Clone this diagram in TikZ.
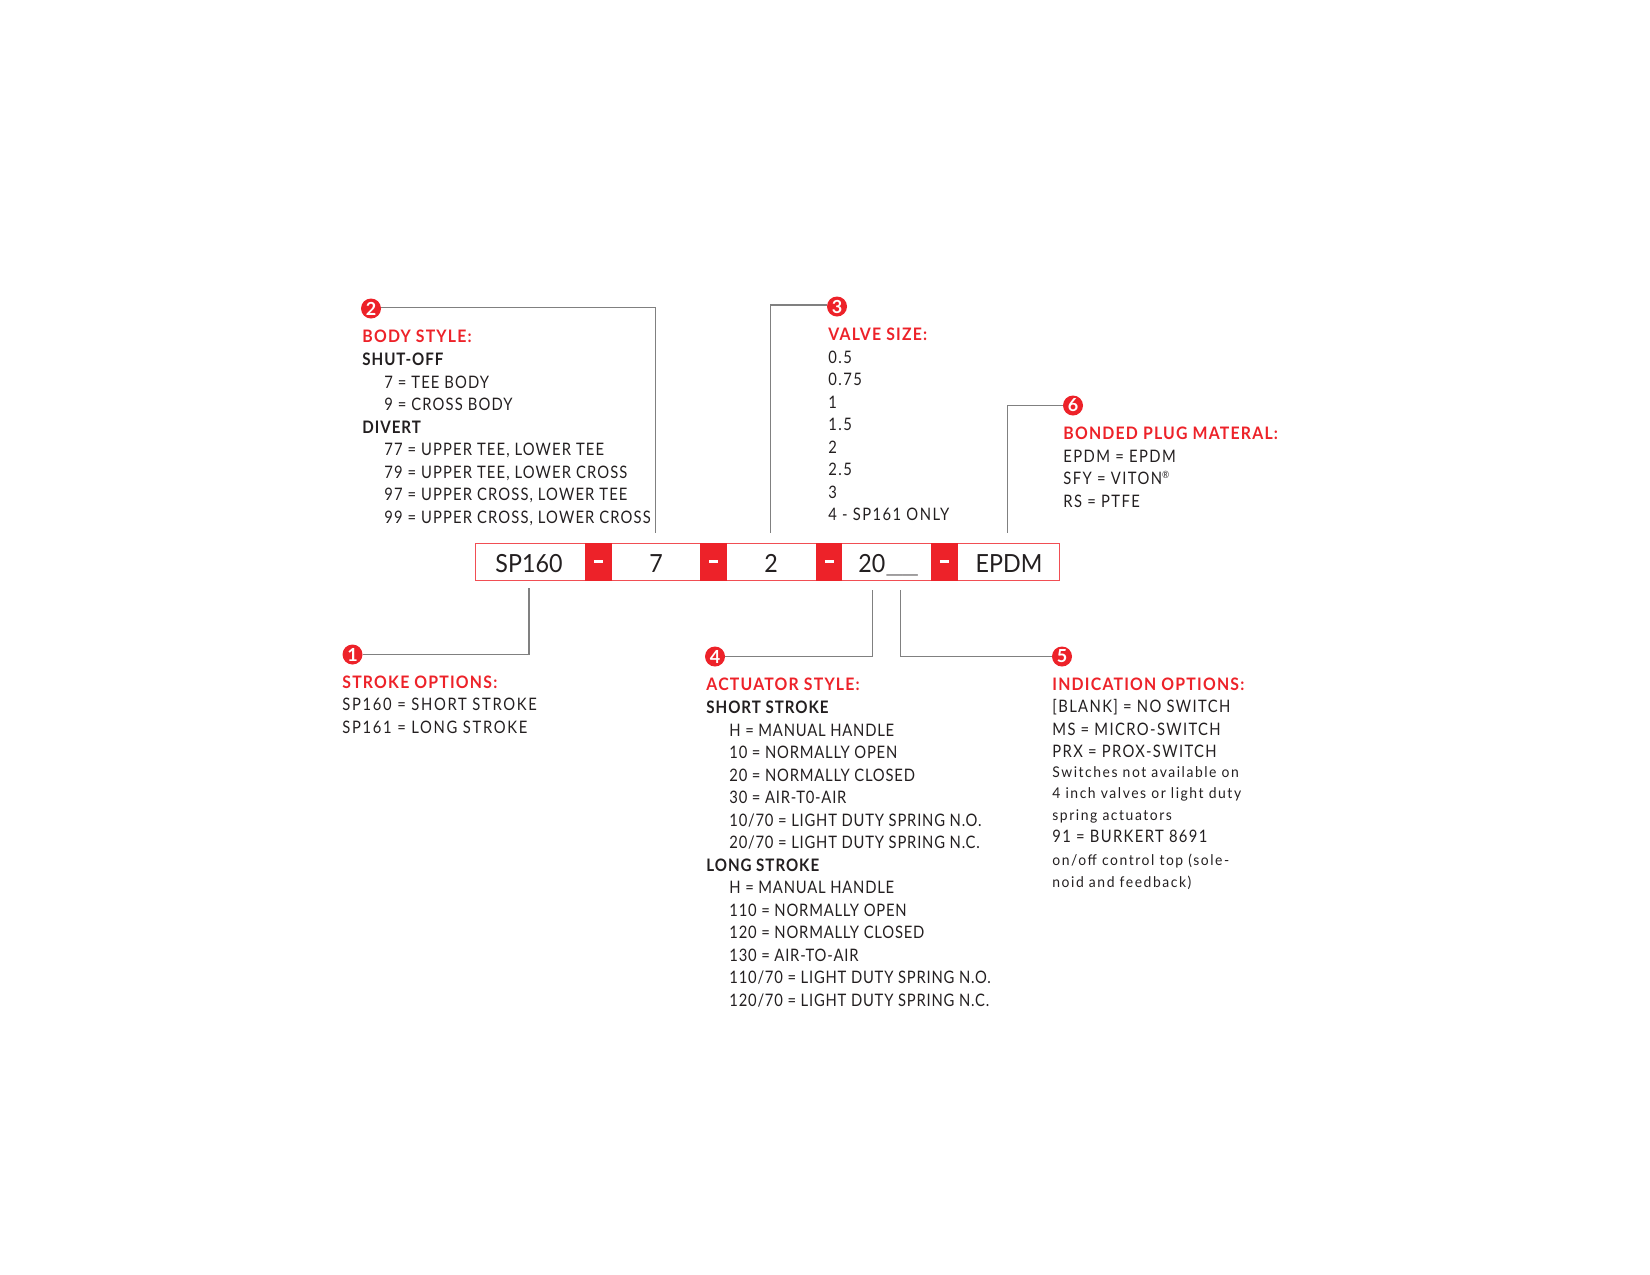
\documentclass[tikz,border=0pt]{standalone}
\usepackage{fontspec}
\setmainfont[LetterSpace=7,FakeStretch=0.86]{Lato}
\newfontfamily\itemwide[LetterSpace=9.8,FakeStretch=0.86]{Lato}
\newfontfamily\itemsize[LetterSpace=8.3,FakeStretch=0.86]{Lato}
\newfontfamily\itembody[LetterSpace=6.6,FakeStretch=0.86]{Lato}
\newfontfamily\itemact[LetterSpace=4.6,FakeStretch=0.86]{Lato}
\newfontfamily\itemind[LetterSpace=8,FakeStretch=0.86]{Lato}
\newfontfamily\headf[LetterSpace=7,FakeStretch=0.92]{Lato Bold}
\newfontfamily\subf[LetterSpace=5.5,FakeStretch=0.88]{Lato Bold}
\newfontfamily\badgef{Lato Bold}
\newfontfamily\smallf[LetterSpace=10.5,FakeStretch=0.94]{Lato}
\newfontfamily\plainf[FakeStretch=0.93]{Lato}
\newfontfamily\linef[FakeStretch=1.6]{Lato Light}
\definecolor{accent}{HTML}{ED2229}
\definecolor{ink}{HTML}{231F20}
\definecolor{wire}{HTML}{808080}
\tikzset{x=0.5pt,y=-0.5pt,
 lead/.style={draw=wire,line width=0.7pt},
 badge/.style={circle,fill=accent,text=white,inner sep=0pt,minimum size=10pt,font=\badgef\fontsize{9}{9}\selectfont},
 head/.style={anchor=base west,inner sep=0pt,yshift=-0.25pt,text=accent,font=\headf\fontsize{8.6}{10}\selectfont},
 sub/.style={anchor=base west,inner sep=0pt,yshift=-0.25pt,text=ink,font=\subf\fontsize{8.6}{10}\selectfont},
 item/.style={anchor=base west,inner sep=0pt,yshift=-0.25pt,text=ink,font=#1\fontsize{8.6}{10}\selectfont},
 small/.style={anchor=base west,inner sep=0pt,yshift=-0.25pt,text=ink,font=\smallf\fontsize{7.4}{9}\selectfont},
 code/.style={inner sep=0pt,text=ink,font=\plainf\fontsize{12.5}{14}\selectfont},
 istroke/.style={item=\itemwide},
 isize/.style={item=\itemsize},
 ibody/.style={item=\itembody},
 iact/.style={item=\itemact},
 iind/.style={item=\itemind}}
\begin{document}
\begin{tikzpicture}
\useasboundingbox (0,0) rectangle (1650,1275);
% code bar
\draw[accent!80,line width=0.5pt,fill=white] (475.5,543) rectangle (1059.5,580.5);
\fill[accent] (585,543) rectangle (611.5,581);
\fill[accent] (700,543) rectangle (726.5,581);
\fill[accent] (816,543) rectangle (842,581);
\fill[accent] (931,543) rectangle (957.5,581);
\foreach \x in {598,713.5,829,944.5}{\fill[white] (\x-4.5,560) rectangle (\x+4.5,563);}
\node[code,anchor=base] (c1) at (529,572) {SP160};
\node[code,anchor=base] (c2) at (656,572) {7};
\node[code,anchor=base] (c3) at (771,572) {2};
\node[code,anchor=base west] (c4) at (858,572) {20{\linef\_\kern-1.2pt\_}};
\node[code,anchor=base] (c5) at (1009,572) {EPDM};
% badges
\node[badge] (b1) at (352.5,654.5) {1};
\node[badge] (b2) at (371,308.5) {2};
\node[badge] (b3) at (837,306.5) {3};
\node[badge] (b4) at (715,656.5) {4};
\node[badge] (b5) at (1062,656.5) {5};
\node[badge] (b6) at (1073,405.5) {6};
\coordinate (e1) at (529,588);
\coordinate (e2) at (655.5,533);
\coordinate (e3) at (770.5,533);
\coordinate (e4) at (872.5,590);
\coordinate (e5) at (900.5,590);
\coordinate (e6) at (1007.5,533);
\coordinate (t2) at (655.5,307.5);
\coordinate (t3) at (770.5,305);
\draw[lead] (b1.east) -- (e1 |- b1) -- (e1);
\draw[lead] (b2.east |- t2) -- (t2) -- (e2);
\draw[lead] (b3.west |- t3) -- (t3) -- (e3);
\draw[lead] (b4.east) -- (e4 |- b4) -- (e4);
\draw[lead] (b5.west) -- (e5 |- b5) -- (e5);
\draw[lead] (b6.west) -- (e6 |- b6) -- (e6);
% block 2
\node[head] (t2a) at (362,342) {BODY STYLE:};
\node[sub] (a1) at (362,365) {SHUT-OFF};
\node[ibody] (a2) at (384,388) {7 = TEE BODY};
\node[ibody] (a3) at (384,410) {9 = CROSS BODY};
\node[sub] (a4) at (362,433) {DIVERT};
\node[ibody] (a5) at (384,455) {77 = UPPER TEE, LOWER TEE};
\node[ibody] (a6) at (384,478) {79 = UPPER TEE, LOWER CROSS};
\node[ibody] (a7) at (384,500) {97 = UPPER CROSS, LOWER TEE};
\node[ibody] (a8) at (384,523) {99 = UPPER CROSS, LOWER CROSS};
% block 3
\node[head] (t3a) at (828,340) {VALVE SIZE:};
\node[isize] (v1) at (828,363) {0.5};
\node[isize] (v2) at (828,385) {0.75};
\node[isize] (v3) at (828,408) {1};
\node[isize] (v4) at (828,430) {1.5};
\node[isize] (v5) at (828,453) {2};
\node[isize] (v6) at (828,475) {2.5};
\node[isize] (v7) at (828,498) {3};
\node[isize] (v8) at (828,520) {4 - SP161 ONLY};
% block 6
\node[head] (t6) at (1063,439) {BONDED PLUG MATERAL:};
\node[isize] (p1) at (1063,462) {EPDM = EPDM};
\node[isize] (p2) at (1063,484) {SFY = VITON\raisebox{3pt}{\fontsize{5}{5}\selectfont ®}};
\node[isize] (p3) at (1063,507) {RS = PTFE};
% block 1
\node[head] (t1) at (342,688) {STROKE OPTIONS:};
\node[istroke] (s1) at (342,710) {SP160 = SHORT STROKE};
\node[istroke] (s2) at (342,733) {SP161 = LONG STROKE};
% block 4
\node[head] (t4) at (706,690) {ACTUATOR STYLE:};
\node[sub] (k1) at (706,713) {SHORT STROKE};
\node[iact] (k2) at (729,736) {H = MANUAL HANDLE};
\node[iact] (k3) at (729,758) {10 = NORMALLY OPEN};
\node[iact] (k4) at (729,781) {20 = NORMALLY CLOSED};
\node[iact] (k5) at (729,803) {30 = AIR-T0-AIR};
\node[iact] (k6) at (729,826) {10/70 = LIGHT DUTY SPRING N.O.};
\node[iact] (k7) at (729,848) {20/70 = LIGHT DUTY SPRING N.C.};
\node[sub] (k8) at (706,871) {LONG STROKE};
\node[iact] (k9) at (729,893) {H = MANUAL HANDLE};
\node[iact] (k10) at (729,916) {110 = NORMALLY OPEN};
\node[iact] (k11) at (729,938) {120 = NORMALLY CLOSED};
\node[iact] (k12) at (729,961) {130 = AIR-TO-AIR};
\node[iact] (k13) at (729,983) {110/70 = LIGHT DUTY SPRING N.O.};
\node[iact] (k14) at (729,1006) {120/70 = LIGHT DUTY SPRING N.C.};
% block 5
\node[head] (t5) at (1052,690) {INDICATION OPTIONS:};
\node[iind] (i1) at (1052,712) {[BLANK] = NO SWITCH};
\node[iind] (i2) at (1052,735) {MS = MICRO-SWITCH};
\node[iind] (i3) at (1052,757) {PRX = PROX-SWITCH};
\node[small] (i4) at (1052,777) {Switches not available on};
\node[small] (i5) at (1052,798) {4 inch valves or light duty};
\node[small] (i6) at (1052,820) {spring actuators};
\node[iind] (i7) at (1052,842) {91 = BURKERT 8691};
\node[small] (i8) at (1052,865) {on/off control top (sole-};
\node[small] (i9) at (1052,887) {noid and feedback)};
\end{tikzpicture}
\end{document}
